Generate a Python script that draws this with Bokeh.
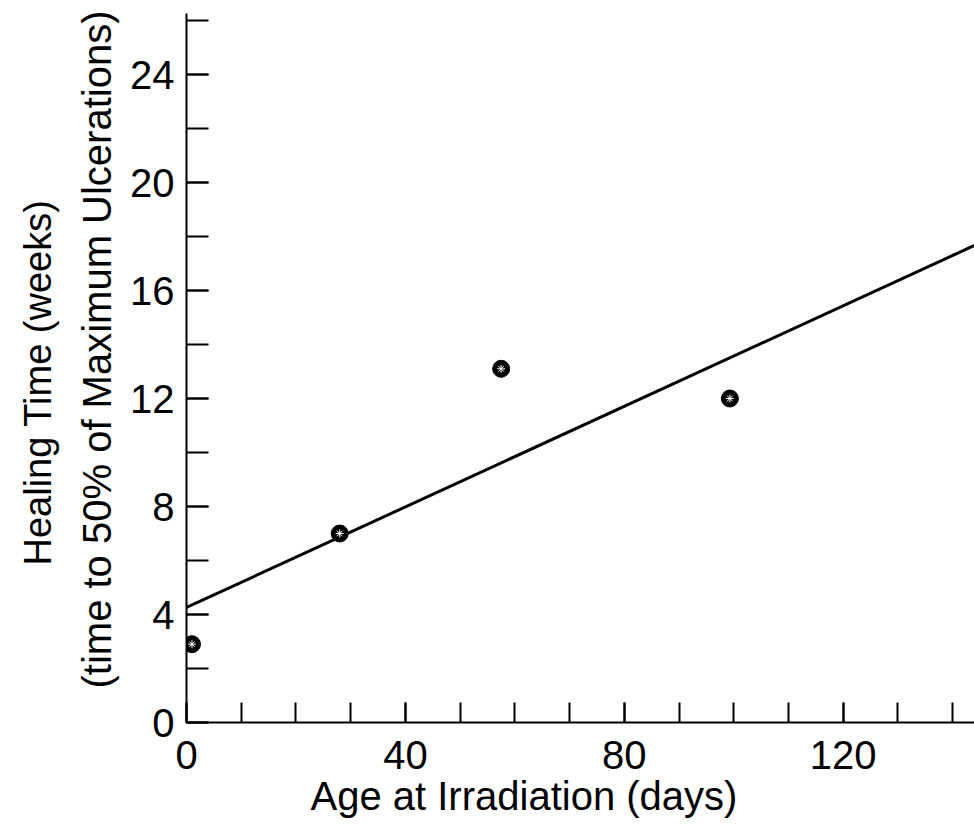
from bokeh.plotting import figure
from bokeh.models import Range1d, SingleIntervalTicker, Title
from bokeh.embed import file_html
from bokeh.resources import INLINE

# Data
age_days = [1, 28, 57.5, 99.3]
healing_weeks = [2.9, 7.0, 13.1, 12.0]
fit_x = [0, 144]
fit_y = [4.26, 17.67]
x_label = "Age at Irradiation (days)"
y_label_1 = "Healing Time (weeks)"
y_label_2 = "(time to 50% of Maximum Ulcerations)"

FONT = "Liberation Sans"

p = figure(width=974, height=838, output_backend="svg", toolbar_location=None,
           x_range=Range1d(0, 144), y_range=Range1d(0, 26.26),
           min_border_left=186, min_border_right=0, min_border_top=13, min_border_bottom=116)
p.outline_line_color = None
p.grid.visible = False
p.background_fill_color = "white"
p.border_fill_color = "white"

p.xaxis.ticker = SingleIntervalTicker(interval=40, num_minor_ticks=4)
p.yaxis.ticker = SingleIntervalTicker(interval=4, num_minor_ticks=2)
for ax in (p.xaxis, p.yaxis):
    ax.axis_line_width = 2
    ax.axis_line_color = "black"
    ax.major_tick_line_width = 2
    ax.minor_tick_line_width = 2
    ax.major_tick_line_color = "black"
    ax.minor_tick_line_color = "black"
    ax.major_tick_out = 0
    ax.minor_tick_out = 0
    ax.major_label_text_font = FONT
    ax.major_label_text_font_size = "40px"
    ax.major_label_text_color = "black"
p.xaxis.major_tick_in = 20
p.xaxis.minor_tick_in = 20
p.yaxis.major_tick_in = 22
p.yaxis.minor_tick_in = 22
p.xaxis.major_label_standoff = 18
p.yaxis.major_label_standoff = 12

p.line(fit_x, fit_y, line_color="black", line_width=3)
p.scatter(age_days, healing_weeks, marker="circle", size=17, fill_color="black", line_color="black")
p.scatter(age_days, healing_weeks, marker="asterisk", size=8, line_color="white", line_width=1)

p.add_layout(Title(text=x_label, align="left", offset=124, standoff=0,
                   text_font=FONT, text_font_size="40px", text_font_style="normal",
                   text_color="black"), "below")
p.add_layout(Title(text=y_label_2, align="left", offset=34, standoff=18,
                   text_font=FONT, text_font_size="40px", text_font_style="normal",
                   text_color="black"), "left")
p.add_layout(Title(text=y_label_1, align="left", offset=157, standoff=10,
                   text_font=FONT, text_font_size="38px", text_font_style="normal",
                   text_color="black"), "left")

open("out.html", "w").write(file_html(p, INLINE))
